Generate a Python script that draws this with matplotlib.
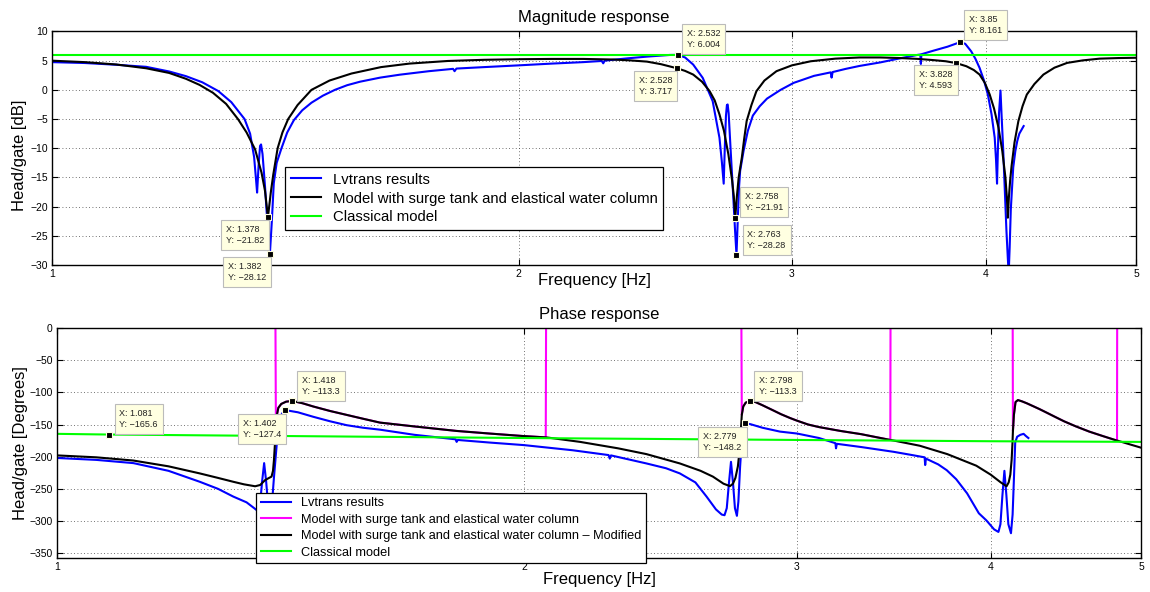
import numpy as np
import matplotlib
matplotlib.use('Agg')
import matplotlib.pyplot as plt
from matplotlib.ticker import NullLocator

plt.rcParams['font.family'] = ['Liberation Sans', 'DejaVu Sans']

# ---------------- magnitude data ----------------
mag_model_f = [1.00, 1.05, 1.10, 1.15, 1.19, 1.22, 1.245, 1.27, 1.295, 1.318, 1.335, 1.352,
               1.365, 1.372, 1.378, 1.384, 1.389, 1.398, 1.408, 1.420, 1.44, 1.470, 1.51,
               1.56, 1.63, 1.70, 1.80, 1.90, 2.00, 2.10, 2.20, 2.30, 2.36, 2.419, 2.47, 2.528,
               2.56, 2.591, 2.625, 2.655, 2.675, 2.694, 2.712, 2.730, 2.745, 2.752, 2.758,
               2.764, 2.772, 2.785, 2.795, 2.805, 2.825, 2.846, 2.88, 2.932, 3.00, 3.085, 3.20,
               3.317, 3.42, 3.522, 3.62, 3.70, 3.77, 3.828, 3.887, 3.93, 3.964, 3.995, 4.024,
               4.05, 4.077, 4.10, 4.119, 4.128, 4.134, 4.140, 4.148, 4.157, 4.175, 4.199,
               4.225, 4.252, 4.30, 4.358, 4.43, 4.514, 4.62, 4.738, 4.87, 5.00]
mag_model_db = [5.0, 4.75, 4.35, 3.7, 2.9, 1.9, 0.85, -0.5, -2.4, -5.0, -7.3, -10.2,
                -14.2, -17.3, -21.82, -17.5, -14.5, -10.0, -7.3, -5.0, -2.6, 0.0, 1.6,
                2.8, 3.9, 4.5, 4.95, 5.15, 5.25, 5.3, 5.3, 5.2, 5.05, 4.84, 4.4, 3.717,
                3.25, 2.62, 1.4, -0.22, -1.8, -4.2, -7.0, -11.06, -15.5, -18.2, -21.91,
                -18.5, -15.0, -11.6, -8.3, -5.35, -2.6, -0.22, 1.6, 3.2, 4.2, 4.9, 5.35,
                5.55, 5.55, 5.45, 5.3, 5.1, 4.9, 4.593, 4.05, 3.4, 2.62, 1.2, -0.8,
                -3.2, -6.5, -10.5, -15.0, -18.5, -21.9, -18.5, -15.5, -13.0, -9.0, -5.35,
                -2.8, -0.8, 1.0, 2.62, 3.8, 4.62, 5.05, 5.35, 5.45, 5.5]

mag_lvtrans_f = [1.00, 1.05, 1.10, 1.15, 1.19, 1.22, 1.25, 1.28, 1.305, 1.331, 1.342, 1.350,
                 1.354, 1.356, 1.359, 1.362, 1.364, 1.367, 1.372, 1.377, 1.382, 1.386, 1.390,
                 1.396, 1.406, 1.418, 1.432, 1.45, 1.47, 1.495, 1.522, 1.55, 1.58, 1.628,
                 1.676, 1.75, 1.814, 1.818, 1.823, 1.90, 2.00, 2.10, 2.20, 2.262, 2.267, 2.272,
                 2.35, 2.42, 2.502, 2.532, 2.56, 2.591, 2.628, 2.667, 2.694, 2.704, 2.711,
                 2.715, 2.720, 2.724, 2.727, 2.731, 2.740, 2.750, 2.757, 2.763, 2.768, 2.773,
                 2.778, 2.792, 2.810, 2.831, 2.86, 2.891, 2.95, 3.008, 3.10, 3.178, 3.182,
                 3.187, 3.25, 3.317, 3.42, 3.522, 3.617, 3.630, 3.633, 3.636, 3.70, 3.78, 3.85,
                 3.88, 3.915, 3.94, 3.964, 3.99, 4.013, 4.035, 4.054, 4.062, 4.068, 4.073,
                 4.080, 4.089, 4.095, 4.105, 4.115, 4.125, 4.134, 4.139, 4.145, 4.152, 4.167,
                 4.180, 4.192, 4.205, 4.232]
mag_lvtrans_db = [4.75, 4.6, 4.3, 3.95, 3.15, 2.35, 1.3, -0.2, -2.1, -5.0, -7.5, -11.5,
                  -15.5, -17.6, -13.0, -9.6, -9.35, -11.0, -16.5, -23.0, -28.12, -22.5, -16.0,
                  -12.5, -10.0, -7.3, -5.2, -3.5, -2.2, -1.0, 0.0, 0.8, 1.4, 2.1,
                  2.6, 3.2, 3.6, 3.2, 3.65, 3.9, 4.2, 4.5, 4.75, 4.95, 4.55, 5.0,
                  5.4, 5.7, 5.98, 6.004, 5.55, 4.33, 2.05, -1.93, -8.2, -12.5, -16.07,
                  -10.5, -4.5, -2.6, -2.5, -4.0, -11.0, -18.5, -24.0, -28.28, -22.5, -17.0,
                  -13.9, -10.5, -7.0, -4.4, -2.8, -1.5, 0.0, 1.2, 2.4, 3.0, 2.1,
                  3.05, 3.6, 4.1, 4.7, 5.4, 6.0, 6.05, 4.44, 6.1, 6.7, 7.4, 8.161,
                  7.9, 6.6, 5.3, 3.76, 1.6, -0.8, -4.2, -8.2, -12.0, -16.07, -10.5,
                  -4.0, -0.12, -4.0, -10.0, -17.0, -24.0, -29.0, -31.5, -27.0, -20.5, -13.3,
                  -10.5, -8.77, -7.5, -6.2]

mag_classic_f = [1.0, 5.0]
mag_classic_db = [6.05, 6.05]

# ---------------- phase data ----------------
ph_mod_f = [1.00, 1.06, 1.12, 1.18, 1.236, 1.27, 1.299, 1.32, 1.342, 1.352, 1.362, 1.370, 1.375,
            1.378, 1.380, 1.382, 1.384, 1.386, 1.389, 1.395, 1.405, 1.418, 1.44, 1.463, 1.50,
            1.537, 1.575, 1.615, 1.70, 1.81, 1.90, 2.00, 2.066, 2.068, 2.174, 2.30, 2.399,
            2.521, 2.60, 2.648, 2.690, 2.716, 2.728, 2.738, 2.748, 2.755, 2.760, 2.764, 2.770,
            2.780, 2.798, 2.82, 2.85, 2.89, 2.93, 2.97, 3.00, 3.05, 3.10, 3.20, 3.30, 3.446,
            3.448, 3.60, 3.75, 3.915, 4.00, 4.06, 4.095, 4.108, 4.118, 4.126, 4.131, 4.134,
            4.140, 4.150, 4.165, 4.19, 4.22, 4.26, 4.30, 4.35, 4.40, 4.46, 4.54, 4.63, 4.725,
            4.825, 4.827, 4.92, 5.00]
ph_mod_deg = [-198, -201, -206, -215, -226, -233, -239, -243, -246, -244, -236.4, -233, -231,
              -222, -205, -180, -158, -135, -124, -118, -114.5, -113.3, -117, -122, -129,
              -135, -141, -147, -153, -160, -164, -168, -170, -170, -177, -187, -196,
              -210.5, -222, -231, -242, -245.8, -242, -233, -215, -190, -160, -135, -122,
              -116, -113.3, -115, -120, -127, -134, -140, -144, -150, -154, -160, -165, -174,
              -174, -183, -196, -214, -228, -240, -246, -240, -228, -205, -180, -160,
              -135, -115, -112, -114, -117, -121.5, -126, -132, -138, -145, -153, -161, -168,
              -175, -175, -181, -186]
# frequency windows where the wrapped phase of the model lies on the modified curve
wrap_windows = [(1.383, 2.067), (2.762, 3.447), (4.1325, 4.826)]

ph_lv_f = [1.00, 1.06, 1.12, 1.18, 1.236, 1.27, 1.299, 1.325, 1.340, 1.348, 1.352, 1.356, 1.360,
           1.364, 1.368, 1.372, 1.376, 1.380, 1.386, 1.390, 1.394, 1.402, 1.43, 1.463, 1.50,
           1.537, 1.575, 1.615, 1.70, 1.807, 1.810, 1.813, 1.90, 2.00, 2.15, 2.268, 2.272,
           2.276, 2.399, 2.47, 2.521, 2.58, 2.623, 2.66, 2.683, 2.694, 2.703, 2.712, 2.720,
           2.728, 2.736, 2.744, 2.750, 2.757, 2.764, 2.770, 2.779, 2.80, 2.85, 2.925, 3.00,
           3.10, 3.176, 3.179, 3.183, 3.30, 3.462, 3.55, 3.626, 3.629, 3.633, 3.70, 3.747,
           3.80, 3.862, 3.93, 3.974, 4.02, 4.046, 4.058, 4.070, 4.082, 4.094, 4.106, 4.122,
           4.132, 4.140, 4.148, 4.16, 4.18, 4.20, 4.215, 4.23]
ph_lv_deg = [-202, -205, -210, -222, -239, -250, -262, -271, -280, -285, -272, -238, -210,
             -238, -275, -290, -272, -232, -178, -150, -136, -127.4, -131, -138, -145,
             -151, -155, -158, -166, -173, -177, -174, -178, -182, -190, -197.5, -203,
             -198, -210.5, -218, -226, -240, -262, -282, -290, -291, -280, -240, -208,
             -240, -280, -292, -270, -216, -175, -153, -148.2, -149.5, -155, -161, -164,
             -171, -179, -187, -180, -185, -192.4, -197, -201, -213, -203, -212, -221,
             -235, -257, -288, -299, -313, -317, -305, -260, -222, -260, -305, -319,
             -290, -235, -178, -169, -166, -164.5, -168, -171]

ph_classic_f = [1.0, 1.081, 2.0, 3.0, 4.0, 5.0]
ph_classic_deg = [-164.5, -165.6, -171, -174, -176, -177]

# data tips: x, y, box offset from marker in pixels (right, down)
tips_mag = [(1.378, -21.82, -47, 3), (1.382, -28.12, -47, 3), (2.532, 6.004, 4, -31),
            (2.528, 3.717, -43, 3), (2.758, -21.91, 5, -31), (2.763, -28.28, 6, -30),
            (3.85, 8.161, 4, -32), (3.828, 4.593, -42, 2)]
tips_ph = [(1.081, -165.6, 5, -31), (1.402, -127.4, -47, 4), (1.418, -113.3, 5, -30),
           (2.779, -148.2, -47, 4), (2.798, -113.3, 4, -30)]

# wrapped phase of the (unmodified) model
ph_f = np.array(ph_mod_f)
ph_wrapped = np.array(ph_mod_deg, dtype=float) + 360
for lo, hi in wrap_windows:
    inside = (ph_f > lo) & (ph_f < hi)
    ph_wrapped[inside] -= 360


def style(ax, yticks, ylim):
    ax.set_xscale('log')
    ax.set_xlim(1, 5)
    ax.set_ylim(*ylim)
    ax.set_xticks([1, 2, 3, 4, 5])
    ax.set_xticklabels(['1', '2', '3', '4', '5'])
    ax.xaxis.set_minor_locator(NullLocator())
    ax.set_yticks(yticks)
    ax.tick_params(direction='in', top=True, right=True, length=4, width=0.8,
                   labelsize=7.5, pad=3)
    ax.grid(True, ls=(0, (1, 3)), color='#444444', lw=0.6)
    for s in ax.spines.values():
        s.set_linewidth(1.0)


def datatips(ax, tips):
    for x, y, dx, dy in tips:
        ax.plot(x, y, 's', color='black', ms=5, mec='#FFFFE1', mew=0.8, zorder=6)
        txt = f'X: {x:g}\nY: {y:g}'.replace('-', '\u2212')
        ax.annotate(txt, xy=(x, y), xytext=(dx + 5, -(dy + 5)), textcoords='offset pixels',
                    ha='left', va='top', fontsize=6.5, color='#222222', linespacing=1.3,
                    bbox=dict(boxstyle='square,pad=0.55', fc='#FFFFE1', ec='#BBBBBB', lw=0.8),
                    zorder=7)


fig = plt.figure(figsize=(11.5, 5.92), dpi=100)
ax1 = fig.add_axes([0.0452, 0.5524, 0.9426, 0.3944])
ax2 = fig.add_axes([0.0496, 0.0569, 0.9426, 0.3890])

# magnitude
ax1.plot(mag_lvtrans_f, mag_lvtrans_db, color='#0000FF', lw=1.5, label='Lvtrans results')
ax1.plot(mag_model_f, mag_model_db, color='black', lw=1.5,
         label='Model with surge tank and elastical water column')
ax1.plot(mag_classic_f, mag_classic_db, color='#00FF00', lw=1.5, label='Classical model')
style(ax1, range(-30, 11, 5), (-30, 10))
ax1.set_title('Magnitude response', fontsize=12, pad=7)
ax1.set_ylabel('Head/gate [dB]', fontsize=12)
ax1.yaxis.set_label_coords(-0.023, 0.47)
ax1.set_xlabel('Frequency [Hz]', fontsize=12)
ax1.xaxis.set_label_coords(0.5, -0.036)
leg1 = ax1.legend(loc='upper left', bbox_to_anchor=(0.215, 0.421), borderaxespad=0,
                  fontsize=10.7, fancybox=False, edgecolor='black', framealpha=1,
                  labelspacing=0.33, handlelength=2.0, borderpad=0.4)
leg1.get_frame().set_linewidth(0.9)
datatips(ax1, tips_mag)

# phase
ax2.plot(ph_lv_f, ph_lv_deg, color='#0000FF', lw=1.5, label='Lvtrans results')
ax2.plot(ph_mod_f, ph_wrapped, color='#FF00FF', lw=1.5,
         label='Model with surge tank and elastical water column')
ax2.plot(ph_mod_f, ph_mod_deg, color='black', lw=1.5,
         label='Model with surge tank and elastical water column \u2013 Modified')
ax2.plot(ph_classic_f, ph_classic_deg, color='#00FF00', lw=1.5, label='Classical model')
style(ax2, range(-350, 1, 50), (-358, 0))
ax2.set_title('Phase response', fontsize=12, pad=6.5)
ax2.set_ylabel('Head/gate [Degrees]', fontsize=12)
ax2.yaxis.set_label_coords(-0.027, 0.5)
ax2.set_xlabel('Frequency [Hz]', fontsize=12)
ax2.xaxis.set_label_coords(0.5, -0.058)
leg2 = ax2.legend(loc='upper left', bbox_to_anchor=(0.1836, 0.285), borderaxespad=0,
                  fontsize=9.2, fancybox=False, edgecolor='black', framealpha=1,
                  labelspacing=0.35, handlelength=2.4, borderpad=0.35)
leg2.get_frame().set_linewidth(0.9)
datatips(ax2, tips_ph)

fig.savefig('out.png', dpi=100)
